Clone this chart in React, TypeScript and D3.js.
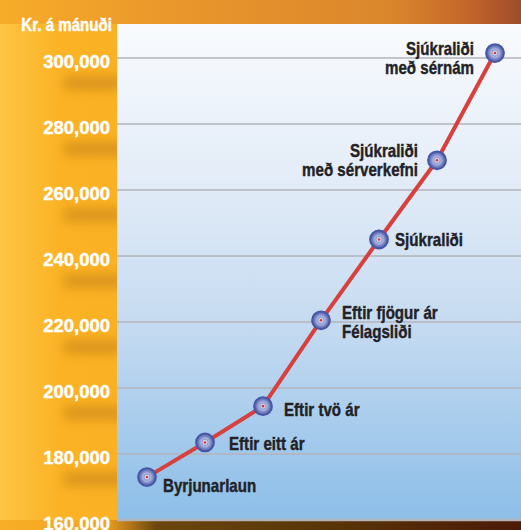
import * as d3 from "d3";

// Launastig sjúkraliða – kr. á mánuði
const steps = ["byrjun", "eitt", "tvo", "fjogur", "sjukr", "serverk", "sernam"];
const salaries = [173000, 183500, 194500, 220500, 245000, 269000, 301500];
const stepLabels = [
  ["Byrjunarlaun"],
  ["Eftir eitt ár"],
  ["Eftir tvö ár"],
  ["Eftir fjögur ár", "Félagsliði"],
  ["Sjúkraliði"],
  ["Sjúkraliði", "með sérverkefni"],
  ["Sjúkraliði", "með sérnám"],
];
const yTicks = [160000, 180000, 200000, 220000, 240000, 260000, 280000, 300000];
const yTitle = "Kr. á mánuði";

const W = 521;
const H = 530;
const plot = { left: 117, top: 24, right: 521, bottom: 520 };

// label placement per point: dx, dy of first baseline, anchor
const labelPos = [
  { dx: 16, dy: 15, anchor: "start" },
  { dx: 24, dy: 8, anchor: "start" },
  { dx: 21, dy: 10, anchor: "start" },
  { dx: 21, dy: -1, anchor: "start" },
  { dx: 16, dy: 6, anchor: "start" },
  { dx: -19, dy: -3, anchor: "end" },
  { dx: -21, dy: 2, anchor: "end" },
];

const font = "'Liberation Sans', Arial, sans-serif";
const squeeze = 0.84; // condensed look

export default function App() {
  const x = d3.scalePoint<string>().domain(steps).range([147, 495]);
  const y = d3.scaleLinear().domain([160000, 300000]).range([520, 58]);
  const fmt = d3.format(",");

  const line = d3
    .line<number>()
    .x((_, i) => x(steps[i])!)
    .y((d) => y(d));

  return (
    <svg
      width={W}
      height={H}
      style={{ position: "absolute", left: 0, top: 0, display: "block" }}
    >
      <defs>
        <linearGradient id="bgLeft" x1="0" x2="1" y1="0" y2="0">
          <stop offset="0" stopColor="#fdc444" />
          <stop offset="0.12" stopColor="#fbb224" />
          <stop offset="1" stopColor="#f6a923" />
        </linearGradient>
        <linearGradient id="bgTop" x1="0" x2="1" y1="0" y2="0">
          <stop offset="0" stopColor="#f7ac28" />
          <stop offset="0.35" stopColor="#e9962c" />
          <stop offset="0.75" stopColor="#da862c" />
          <stop offset="0.9" stopColor="#c4662a" />
          <stop offset="1" stopColor="#9e4c2c" />
        </linearGradient>
        <linearGradient id="bgBottom" x1="0" x2="1" y1="0" y2="0">
          <stop offset="0" stopColor="#f8ae26" />
          <stop offset="0.2" stopColor="#f4a522" />
          <stop offset="0.3" stopColor="#6c460e" />
          <stop offset="0.6" stopColor="#5a3608" />
          <stop offset="1" stopColor="#4c1a06" />
        </linearGradient>
        <linearGradient id="plotBg" x1="0" x2="0" y1="0" y2="1">
          <stop offset="0" stopColor="#f9fbfe" />
          <stop offset="0.3" stopColor="#e4edf8" />
          <stop offset="0.6" stopColor="#c6dbf1" />
          <stop offset="1" stopColor="#8cbee8" />
        </linearGradient>
        <radialGradient id="marker" cx="0.5" cy="0.5" r="0.5">
          <stop offset="0" stopColor="#f2f3fb" />
          <stop offset="0.45" stopColor="#aab3de" />
          <stop offset="0.8" stopColor="#6472b8" />
          <stop offset="1" stopColor="#4a58a6" />
        </radialGradient>
        <filter id="blur" x="-50%" y="-100%" width="200%" height="300%">
          <feGaussianBlur stdDeviation="6" />
        </filter>
      </defs>

      {/* background */}
      <rect x={0} y={0} width={W} height={H} fill="url(#bgLeft)" />
      <g filter="url(#blur)" opacity={0.4}>
        {yTicks.map((t) => (
          <rect
            key={t}
            x={64}
            y={y(t) + 19}
            width={60}
            height={12}
            fill="#a0600c"
          />
        ))}
      </g>
      <rect x={0} y={0} width={W} height={plot.top} fill="url(#bgTop)" />
      <rect
        x={0}
        y={plot.bottom}
        width={W}
        height={H - plot.bottom}
        fill="url(#bgBottom)"
      />

      {/* plot area */}
      <rect
        x={plot.left}
        y={plot.top}
        width={plot.right - plot.left}
        height={plot.bottom - plot.top}
        fill="url(#plotBg)"
      />
      {yTicks.map((t) => (
        <line
          key={t}
          x1={plot.left}
          x2={plot.right}
          y1={y(t)}
          y2={y(t)}
          stroke="#b3b3ba"
          strokeWidth={t === 160000 ? 2.5 : 1.5}
        />
      ))}

      {/* y axis labels */}
      {yTicks.map((t) => (
        <text
          key={t}
          x={110}
          y={y(t) + 10}
          textAnchor="end"
          fill="#ffffff"
          stroke="#ffffff"
          strokeWidth={0.4}
          fontFamily={font}
          fontWeight="bold"
          fontSize={18.5}
        >
          {fmt(t)}
        </text>
      ))}
      <g transform={`translate(112,31) scale(${squeeze},1)`}>
        <text
          textAnchor="end"
          fill="#ffffff"
          stroke="#ffffff"
          strokeWidth={0.4}
          fontFamily={font}
          fontWeight="bold"
          fontSize={18}
        >
          {yTitle}
        </text>
      </g>

      {/* line */}
      <path
        d={line(salaries) ?? ""}
        fill="none"
        stroke="#d8403e"
        strokeWidth={4}
        strokeLinejoin="round"
      />

      {/* markers */}
      {salaries.map((v, i) => (
        <g key={steps[i]} transform={`translate(${x(steps[i])},${y(v)})`}>
          <circle r={9} fill="url(#marker)" stroke="#4656a4" strokeWidth={1.8} />
          <circle r={3.2} fill="none" stroke="#8e98cc" strokeWidth={1} />
          <circle r={1.3} fill="#d23a3a" />
        </g>
      ))}

      {/* point labels */}
      {salaries.map((v, i) => {
        const p = labelPos[i];
        return (
          <g
            key={steps[i]}
            transform={`translate(${x(steps[i])! + p.dx},${y(v) + p.dy}) scale(${squeeze},1)`}
          >
            <text
              textAnchor={p.anchor}
              fill="#222226"
              stroke="#222226"
              strokeWidth={0.4}
              fontFamily={font}
              fontWeight="bold"
              fontSize={18}
            >
              {stepLabels[i].map((s, j) => (
                <tspan key={j} x={0} dy={j === 0 ? 0 : 19}>
                  {s}
                </tspan>
              ))}
            </text>
          </g>
        );
      })}
    </svg>
  );
}
